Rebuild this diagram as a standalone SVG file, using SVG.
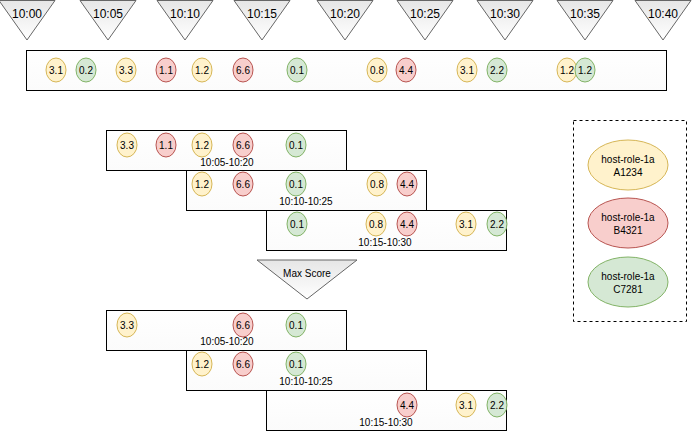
<svg xmlns="http://www.w3.org/2000/svg" width="693" height="431" viewBox="0 0 693 431">
<defs>
<linearGradient id="gTri" x1="0" y1="0" x2="0" y2="1">
<stop offset="0" stop-color="#e6e6e6"/>
<stop offset="1" stop-color="#ffffff"/>
</linearGradient>
<linearGradient id="gBox" x1="0" y1="0" x2="0" y2="1">
<stop offset="0" stop-color="#ffffff"/>
<stop offset="1" stop-color="#fbfbfb"/>
</linearGradient>
</defs>
<style>
text{font-family:"Liberation Sans",Arial,sans-serif;fill:#000;text-anchor:middle;}
.tl{font-size:12px;}
.s{font-size:10px;}
.tri{fill:url(#gTri);stroke:#666666;stroke-width:1;}
.box{fill:url(#gBox);stroke:#000;stroke-width:1;}
.y{fill:#fff2cc;stroke:#d6b656;stroke-width:1;}
.r{fill:#f8cecc;stroke:#b85450;stroke-width:1;}
.g{fill:#d5e8d4;stroke:#82b366;stroke-width:1;}
.leg{fill:#fff;stroke:#000;stroke-width:1;stroke-dasharray:3 3;}
</style>

<g id="time-markers">
<g id="t1000"><polygon class="tri" points="-1,0.5 55,0.5 27,40"/><text class="tl" x="27" y="18">10:00</text></g>
<g id="t1005"><polygon class="tri" points="80,0.5 136,0.5 108,40"/><text class="tl" x="108" y="18">10:05</text></g>
<g id="t1010"><polygon class="tri" points="157,0.5 213,0.5 185,40"/><text class="tl" x="185" y="18">10:10</text></g>
<g id="t1015"><polygon class="tri" points="234,0.5 290,0.5 262,40"/><text class="tl" x="262" y="18">10:15</text></g>
<g id="t1020"><polygon class="tri" points="317,0.5 373,0.5 345,40"/><text class="tl" x="345" y="18">10:20</text></g>
<g id="t1025"><polygon class="tri" points="397,0.5 453,0.5 425,40"/><text class="tl" x="425" y="18">10:25</text></g>
<g id="t1030"><polygon class="tri" points="477,0.5 533,0.5 505,40"/><text class="tl" x="505" y="18">10:30</text></g>
<g id="t1035"><polygon class="tri" points="557,0.5 613,0.5 585,40"/><text class="tl" x="585" y="18">10:35</text></g>
<g id="t1040"><polygon class="tri" points="635,0.5 691,0.5 663,40"/><text class="tl" x="663" y="18">10:40</text></g>
</g>

<g id="timeline">
<rect class="box" x="26.5" y="50.5" width="640" height="40"/>
<g id="tl-1"><ellipse class="y" cx="56" cy="70" rx="10" ry="12"/><text class="s" x="56" y="74">3.1</text></g>
<g id="tl-2"><ellipse class="g" cx="86" cy="70" rx="10" ry="12"/><text class="s" x="86" y="74">0.2</text></g>
<g id="tl-3"><ellipse class="y" cx="126" cy="70" rx="10" ry="12"/><text class="s" x="126" y="74">3.3</text></g>
<g id="tl-4"><ellipse class="r" cx="166" cy="70" rx="10" ry="12"/><text class="s" x="166" y="74">1.1</text></g>
<g id="tl-5"><ellipse class="y" cx="202" cy="70" rx="10" ry="12"/><text class="s" x="202" y="74">1.2</text></g>
<g id="tl-6"><ellipse class="r" cx="243" cy="70" rx="10" ry="12"/><text class="s" x="243" y="74">6.6</text></g>
<g id="tl-7"><ellipse class="g" cx="297" cy="70" rx="10" ry="12"/><text class="s" x="297" y="74">0.1</text></g>
<g id="tl-8"><ellipse class="y" cx="377" cy="70" rx="10" ry="12"/><text class="s" x="377" y="74">0.8</text></g>
<g id="tl-9"><ellipse class="r" cx="406" cy="70" rx="10" ry="12"/><text class="s" x="406" y="74">4.4</text></g>
<g id="tl-10"><ellipse class="y" cx="467" cy="70" rx="10" ry="12"/><text class="s" x="467" y="74">3.1</text></g>
<g id="tl-11"><ellipse class="g" cx="497" cy="70" rx="10" ry="12"/><text class="s" x="497" y="74">2.2</text></g>
<g id="tl-12"><ellipse class="y" cx="567" cy="70" rx="10" ry="12"/><text class="s" x="567" y="74">1.2</text></g>
<g id="tl-13"><ellipse class="g" cx="585" cy="70" rx="10" ry="12"/><text class="s" x="585" y="74">1.2</text></g>
</g>

<g id="window-a1">
<rect class="box" x="106.5" y="130.5" width="240" height="40"/>
<ellipse class="y" cx="127" cy="145" rx="10" ry="12"/><text class="s" x="127" y="149">3.3</text>
<ellipse class="r" cx="166" cy="145" rx="10" ry="12"/><text class="s" x="166" y="149">1.1</text>
<ellipse class="y" cx="202" cy="145" rx="10" ry="12"/><text class="s" x="202" y="149">1.2</text>
<ellipse class="r" cx="243" cy="145" rx="10" ry="12"/><text class="s" x="243" y="149">6.6</text>
<ellipse class="g" cx="296" cy="145" rx="10" ry="12"/><text class="s" x="296" y="149">0.1</text>
<text class="s" x="227" y="166">10:05-10:20</text>
</g>
<g id="window-a2">
<rect class="box" x="186.5" y="170.5" width="240" height="40"/>
<ellipse class="y" cx="202" cy="184" rx="10" ry="12"/><text class="s" x="202" y="188">1.2</text>
<ellipse class="r" cx="243" cy="184" rx="10" ry="12"/><text class="s" x="243" y="188">6.6</text>
<ellipse class="g" cx="296" cy="184" rx="10" ry="12"/><text class="s" x="296" y="188">0.1</text>
<ellipse class="y" cx="377" cy="184" rx="10" ry="12"/><text class="s" x="377" y="188">0.8</text>
<ellipse class="r" cx="407" cy="184" rx="10" ry="12"/><text class="s" x="407" y="188">4.4</text>
<text class="s" x="306" y="205">10:10-10:25</text>
</g>
<g id="window-a3">
<rect class="box" x="266.5" y="210.5" width="240" height="40"/>
<ellipse class="g" cx="297" cy="224" rx="10" ry="12"/><text class="s" x="297" y="228">0.1</text>
<ellipse class="y" cx="376" cy="224" rx="10" ry="12"/><text class="s" x="376" y="228">0.8</text>
<ellipse class="r" cx="407" cy="224" rx="10" ry="12"/><text class="s" x="407" y="228">4.4</text>
<ellipse class="y" cx="466" cy="224" rx="10" ry="12"/><text class="s" x="466" y="228">3.1</text>
<ellipse class="g" cx="497" cy="224" rx="10" ry="12"/><text class="s" x="497" y="228">2.2</text>
<text class="s" x="385" y="246">10:15-10:30</text>
</g>

<g id="max-score">
<polygon class="tri" points="257,260 357,260 307,299"/>
<text class="s" x="307" y="277">Max Score</text>
</g>

<g id="window-b1">
<rect class="box" x="106.5" y="310.5" width="240" height="40"/>
<ellipse class="y" cx="127" cy="325" rx="10" ry="12"/><text class="s" x="127" y="329">3.3</text>
<ellipse class="r" cx="243" cy="325" rx="10" ry="12"/><text class="s" x="243" y="329">6.6</text>
<ellipse class="g" cx="296" cy="325" rx="10" ry="12"/><text class="s" x="296" y="329">0.1</text>
<text class="s" x="227" y="345">10:05-10:20</text>
</g>
<g id="window-b2">
<rect class="box" x="186.5" y="350.5" width="240" height="40"/>
<ellipse class="y" cx="202" cy="364" rx="10" ry="12"/><text class="s" x="202" y="368">1.2</text>
<ellipse class="r" cx="243" cy="364" rx="10" ry="12"/><text class="s" x="243" y="368">6.6</text>
<ellipse class="g" cx="296" cy="364" rx="10" ry="12"/><text class="s" x="296" y="368">0.1</text>
<text class="s" x="306" y="385">10:10-10:25</text>
</g>
<g id="window-b3">
<rect class="box" x="266.5" y="390.5" width="240" height="40"/>
<ellipse class="r" cx="407" cy="405" rx="10" ry="12"/><text class="s" x="407" y="409">4.4</text>
<ellipse class="y" cx="466" cy="405" rx="10" ry="12"/><text class="s" x="466" y="409">3.1</text>
<ellipse class="g" cx="497" cy="405" rx="10" ry="12"/><text class="s" x="497" y="409">2.2</text>
<text class="s" x="386" y="426">10:15-10:30</text>
</g>

<g id="legend">
<rect class="leg" x="573.5" y="120.5" width="113" height="201"/>
<g id="legend-a"><ellipse class="y" cx="628" cy="165" rx="40" ry="25"/><text class="s" x="628" y="163">host-role-1a</text><text class="s" x="628" y="176">A1234</text></g>
<g id="legend-b"><ellipse class="r" cx="628" cy="223" rx="40" ry="25"/><text class="s" x="628" y="221">host-role-1a</text><text class="s" x="628" y="234">B4321</text></g>
<g id="legend-c"><ellipse class="g" cx="628" cy="282" rx="40" ry="25"/><text class="s" x="628" y="280">host-role-1a</text><text class="s" x="628" y="293">C7281</text></g>
</g>

<g id="connectors"/>
</svg>
